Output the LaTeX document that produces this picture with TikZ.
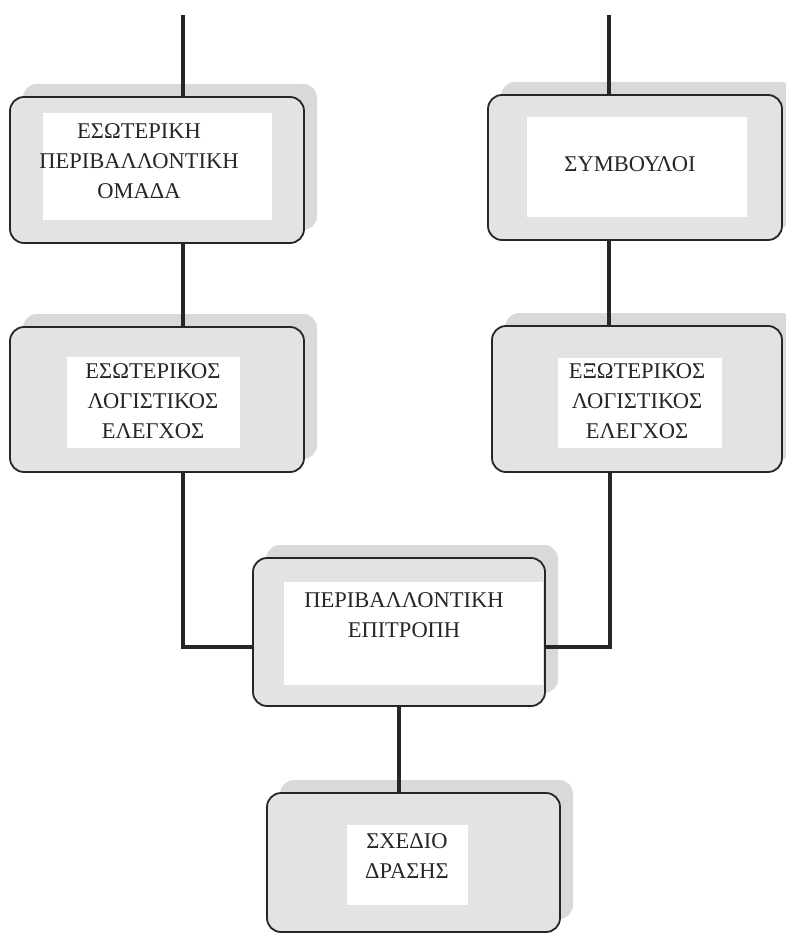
\documentclass[tikz,border=0pt]{standalone}
\usepackage{fontspec}
\setmainfont{Liberation Serif}
\usetikzlibrary{shadows}

\begin{document}
\begin{tikzpicture}[x = 1pt, y = -1pt,
    box/.style = {draw = black!85, line width = 1.8pt, rounded corners = 14pt, fill = gray!22, inner sep = 0pt,
        general shadow = {fill = gray!30, shadow xshift = 13pt, shadow yshift = 13pt}},
    pane/.style = {fill = white, inner sep = 0pt},
    txt/.style = {align = center, inner sep = 0pt, text = black!85, font = \fontsize{22.5}{30}\selectfont},
    link/.style = {line width = 3.5pt, black!85}]
            \useasboundingbox (0,0) rectangle (785,933);
            \node[box, minimum width = 294pt, minimum height = 146pt] (b1) at (157,170) {};
            \node[box, minimum width = 294pt, minimum height = 145pt] (b2) at (157,399.5) {};
            \node[box, minimum width = 294pt, minimum height = 145pt] (b3) at (635,167.5) {};
            \node[box, minimum width = 290pt, minimum height = 146pt] (b4) at (637,399) {};
            \node[box, minimum width = 292pt, minimum height = 148pt] (b5) at (399,632) {};
            \node[box, minimum width = 293pt, minimum height = 139pt] (b6) at (413.5,862.5) {};
            \node[pane, minimum width = 229pt, minimum height = 107pt] (p1) at (157.5,166.5) {};
            \node[pane, minimum width = 173pt, minimum height = 91pt] (p2) at (153.5,402.5) {};
            \node[pane, minimum width = 220pt, minimum height = 100pt] (p3) at (637,167) {};
            \node[pane, minimum width = 164pt, minimum height = 90pt] (p4) at (640,403) {};
            \node[pane, minimum width = 259pt, minimum height = 103pt] (p5) at (413.5,633.5) {};
            \node[pane, minimum width = 121pt, minimum height = 80pt] (p6) at (407.5,865) {};
            \node[txt] (l1) at (139,161) {ΕΣΩΤΕΡΙΚΗ\\ΠΕΡΙΒΑΛΛΟΝΤΙΚΗ\\ΟΜΑΔΑ};
            \node[txt] (l2) at (153,401) {ΕΣΩΤΕΡΙΚΟΣ\\ΛΟΓΙΣΤΙΚΟΣ\\ΕΛΕΓΧΟΣ};
            \node[txt] (l3) at (630,164.5) {ΣΥΜΒΟΥΛΟΙ};
            \node[txt] (l4) at (637,401) {ΕΞΩΤΕΡΙΚΟΣ\\ΛΟΓΙΣΤΙΚΟΣ\\ΕΛΕΓΧΟΣ};
            \node[txt] (l5) at (404,615.5) {ΠΕΡΙΒΑΛΛΟΝΤΙΚΗ\\ΕΠΙΤΡΟΠΗ};
            \node[txt] (l6) at (407,856) {ΣΧΕΔΙΟ\\ΔΡΑΣΗΣ};
            \coordinate (c1) at (183,15);
            \coordinate (c2) at (609,15);
            \coordinate (j1) at (183,647);
            \coordinate (j2) at (610,647);
            \draw[link] (c1) -- (c1 |- b1.north);
            \draw[link] (b1.south -| c1) -- (b2.north -| c1);
            \draw[link] (c2) -- (c2 |- b3.north);
            \draw[link] (b3.south -| c2) -- (b4.north -| c2);
            \draw[link] (b2.south -| j1) -- (j1) -- (j1 -| b5.west);
            \draw[link] (b4.south -| j2) -- (j2) -- (j2 -| b5.east);
            \draw[link] (b5.south) -- (b5.south |- b6.north);
        \end{tikzpicture}
\end{document}
